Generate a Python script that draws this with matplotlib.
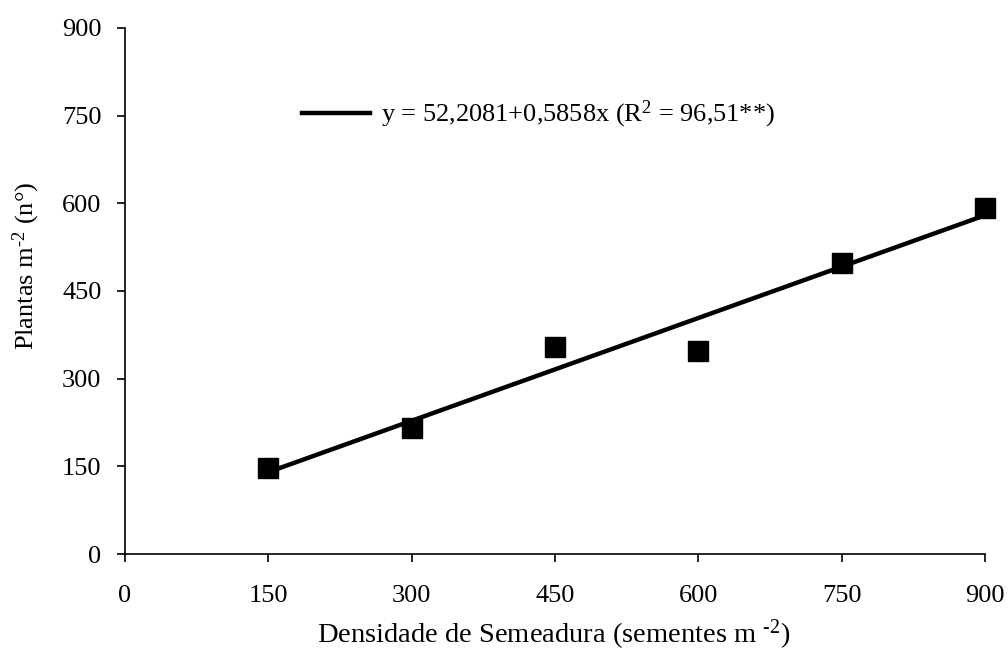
import matplotlib
matplotlib.use("Agg")
import matplotlib.pyplot as plt
import numpy as np

plt.rcParams['font.family'] = ['Liberation Serif', 'DejaVu Serif']
plt.rcParams['mathtext.fontset'] = 'custom'
plt.rcParams['mathtext.rm'] = 'Liberation Serif'
plt.rcParams['mathtext.it'] = 'Liberation Serif:italic'

densidade = [150, 300, 450, 600, 750, 900]
plantas = [147, 216, 354, 347, 498, 592]
intercept = 52.2081
slope = 0.5858
ticks = [0, 150, 300, 450, 600, 750, 900]

fig = plt.figure(figsize=(10.08, 6.51), dpi=100)
ax = fig.add_axes([0.124, 0.149, 0.853, 0.808])

x_fit = np.array([densidade[0], densidade[-1]])
ax.plot(x_fit, intercept + slope * x_fit, color='black', lw=3.2,
        label='y = 52,2081+0,5858x (R$^2$ = 96,51**)', zorder=2)
ax.plot(densidade, plantas, 's', color='black', ms=14, zorder=3)

ax.set_xlim(0, 900)
ax.set_ylim(0, 900)
ax.set_xticks(ticks)
ax.set_yticks(ticks)
ax.tick_params(direction='out', length=6, width=1.2, labelsize=19)
ax.tick_params(axis='x', pad=16)
ax.tick_params(axis='y', pad=11)
for s in ['top', 'right']:
    ax.spines[s].set_visible(False)
for s in ['left', 'bottom']:
    ax.spines[s].set_linewidth(1.2)

ax.set_xlabel('Densidade de Semeadura (sementes m $^{\\text{-2}}$)', fontsize=20.5)
ax.set_ylabel('Plantas m$^{\\text{-2}}$ (n°)', fontsize=19)
ax.xaxis.set_label_coords(0.499, -0.122)
ax.yaxis.set_label_coords(-0.096, 0.548)

ax.legend(loc='center left', bbox_to_anchor=(0.178, 0.835), frameon=False,
          fontsize=19, handlelength=2.6, handletextpad=0.4)

for line in ax.get_lines():
    line.set_clip_on(False)

fig.savefig('out.png', dpi=100)
